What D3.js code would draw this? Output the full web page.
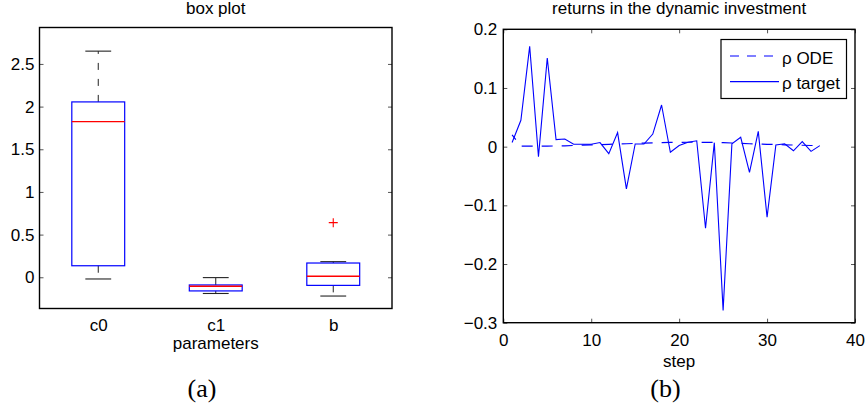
<!DOCTYPE html>
<html>
<head>
<meta charset="utf-8">
<script src="https://cdn.jsdelivr.net/npm/d3@7"></script>
<style>
  html, body { margin: 0; padding: 0; background: #fff; }
  svg { display: block; }
  text { font-family: "Liberation Sans", Arial, Helvetica, sans-serif; fill: #000; }
  .cap { font-family: "Liberation Serif", "Times New Roman", serif; }
</style>
</head>
<body>
<svg id="fig" width="865" height="408"></svg>
<script>
// ---- (a) box plot summaries for each fitted parameter ----
const categories   = ["c0", "c1", "b"];
const lowerWhisker = [-0.02, -0.19, -0.22];
const q1           = [0.135, -0.16, -0.095];
const medians      = [1.825, -0.105, 0.012];
const q3           = [2.055, -0.09, 0.167];
const upperWhisker = [2.65, -0.004, 0.183];
const outliers     = [[], [], [0.64]];
const boxTicks     = [0, 0.5, 1, 1.5, 2, 2.5];

// ---- (b) returns per step ----
const steps = [1, 2, 3, 4, 5, 6, 7, 8, 9, 10, 11, 12, 13, 14, 15, 16, 17, 18,
               19, 20, 21, 22, 23, 24, 25, 26, 27, 28, 29, 30, 31, 32, 33, 34, 35, 36];
const rhoTarget = [0.007, 0.045, 0.171, -0.017, 0.151, 0.012, 0.013, 0.004, 0.004, 0.004,
                   0.007, -0.012, 0.024, -0.072, 0.0045, 0.0045, 0.0215, 0.071, -0.0096, 0.002,
                   0.0075, 0.010, -0.139, 0.0068, -0.279, 0.005, 0.016, -0.044, 0.026, -0.120,
                   0.003, 0.005, -0.007, 0.0085, -0.008, 0.0017];
const rhoODE = [0.020, 0.001, 0.001, 0.001, 0.001, 0.0012, 0.0015, 0.002, 0.0025, 0.003,
                0.0035, 0.004, 0.0045, 0.005, 0.0055, 0.006, 0.0065, 0.007, 0.0072, 0.0074,
                0.0075, 0.0075, 0.0074, 0.0072, 0.0068, 0.0062, 0.0056, 0.005, 0.0045, 0.004,
                0.0036, 0.0032, 0.0028, 0.0024, 0.002, 0.0017];
const stepTicks   = [0, 10, 20, 30, 40];
const returnTicks = [-0.3, -0.2, -0.1, 0, 0.1, 0.2];
const legendLabels = ["ρ ODE", "ρ target"];

const svg = d3.select("#fig");
const fmt = d3.format("~g");
const FONT = 17;

function frame(g, x0, y0, x1, y1) {
  g.append("rect")
    .attr("x", x0).attr("y", y0)
    .attr("width", x1 - x0).attr("height", y1 - y0)
    .attr("fill", "none").attr("stroke", "#000").attr("stroke-width", 1.4);
}

function styleAxis(sel) {
  sel.select(".domain").remove();
  sel.selectAll(".tick line").attr("stroke", "#555").attr("stroke-width", 1);
  sel.selectAll(".tick text").style("font-size", FONT + "px")
     .style("font-family", '"Liberation Sans", Arial, sans-serif').attr("fill", "#000");
}

// ================= (a) box plot =================
{
  const L = 39.5, R = 392, T = 27.5, B = 308.5;
  const g = svg.append("g");
  const x = d3.scaleLinear().domain([0.5, 3.5]).range([L, R]);
  const y = d3.scaleLinear().domain([-0.366, 2.927]).range([B, T]);
  const unit = x(2) - x(1);
  const boxW = 0.45 * unit, capW = 0.22 * unit;

  // y axis, ticks pointing inward on both sides
  g.append("g").attr("transform", `translate(${L},0)`)
    .call(d3.axisLeft(y).tickValues(boxTicks).tickFormat(fmt).tickSize(-4).tickPadding(5))
    .call(styleAxis);
  g.append("g").attr("transform", `translate(${R},0)`)
    .call(d3.axisRight(y).tickValues(boxTicks).tickFormat(() => "").tickSize(-4))
    .call(styleAxis);

  // category labels
  g.append("g").attr("transform", `translate(0,${B})`)
    .call(d3.axisBottom(x).tickValues([1, 2, 3]).tickFormat((d, i) => categories[i]).tickSize(0).tickPadding(10))
    .call(styleAxis)
    .selectAll(".tick text").attr("dy", "0.71em");

  categories.forEach((c, i) => {
    const cx = x(i + 1);
    const wg = g.append("g");
    // whiskers
    [[q3[i], upperWhisker[i]], [q1[i], lowerWhisker[i]]].forEach(([a, b]) => {
      wg.append("line").attr("x1", cx).attr("x2", cx).attr("y1", y(a)).attr("y2", y(b))
        .attr("stroke", "#222").attr("stroke-width", 1).attr("stroke-dasharray", "7,9");
      wg.append("line").attr("x1", cx - capW / 2).attr("x2", cx + capW / 2)
        .attr("y1", y(b)).attr("y2", y(b)).attr("stroke", "#222").attr("stroke-width", 1.1);
    });
    // box
    wg.append("rect").attr("x", cx - boxW / 2).attr("y", y(q3[i]))
      .attr("width", boxW).attr("height", y(q1[i]) - y(q3[i]))
      .attr("fill", "none").attr("stroke", "#0000ff").attr("stroke-width", 1.2);
    // median
    wg.append("line").attr("x1", cx - boxW / 2).attr("x2", cx + boxW / 2)
      .attr("y1", y(medians[i])).attr("y2", y(medians[i]))
      .attr("stroke", "#ff0000").attr("stroke-width", 1.3);
    // outliers
    outliers[i].forEach(v => {
      const py = y(v), s = 4.5;
      wg.append("path").attr("d", `M${cx - s},${py}H${cx + s}M${cx},${py - s}V${py + s}`)
        .attr("stroke", "#ff0000").attr("stroke-width", 1.1).attr("fill", "none");
    });
  });

  frame(g, L, T, R, B);

  g.append("text").attr("x", (L + R) / 2).attr("y", 13.5).attr("text-anchor", "middle")
    .style("font-size", FONT + "px").text("box plot");
  g.append("text").attr("x", (L + R) / 2).attr("y", 348.5).attr("text-anchor", "middle")
    .style("font-size", FONT + "px").text("parameters");
  g.append("text").attr("class", "cap").attr("x", 202).attr("y", 397).attr("text-anchor", "middle")
    .style("font-size", "26px").text("(a)");
}

// ================= (b) returns =================
{
  const L = 503.3, R = 855, T = 29.3, B = 322.7;
  const g = svg.append("g");
  const x = d3.scaleLinear().domain([0, 40]).range([L, R]);
  const y = d3.scaleLinear().domain([-0.3, 0.2]).range([B, T]);

  g.append("g").attr("transform", `translate(${L},0)`)
    .call(d3.axisLeft(y).tickValues(returnTicks).tickFormat(fmt).tickSize(-4).tickPadding(6))
    .call(styleAxis);
  g.append("g").attr("transform", `translate(${R},0)`)
    .call(d3.axisRight(y).tickValues(returnTicks).tickFormat(() => "").tickSize(-4))
    .call(styleAxis);
  g.append("g").attr("transform", `translate(0,${B})`)
    .call(d3.axisBottom(x).tickValues(stepTicks).tickFormat(fmt).tickSize(-4).tickPadding(11))
    .call(styleAxis)
    .selectAll(".tick text").attr("dy", "0.71em");
  g.append("g").attr("transform", `translate(0,${T})`)
    .call(d3.axisTop(x).tickValues(stepTicks).tickFormat(() => "").tickSize(-4))
    .call(styleAxis);

  const line = d3.line().x((d, i) => x(steps[i])).y(d => y(d));

  g.append("path").datum(rhoODE).attr("d", line)
    .attr("fill", "none").attr("stroke", "#0000ff").attr("stroke-width", 1.2)
    .attr("stroke-dasharray", "11,9").attr("stroke-dashoffset", 5);
  g.append("path").datum(rhoTarget).attr("d", line)
    .attr("fill", "none").attr("stroke", "#0000ff").attr("stroke-width", 1.1)
    .attr("stroke-linejoin", "miter");

  frame(g, L, T, R, B);

  // legend
  const lg = g.append("g");
  lg.append("rect").attr("x", 721).attr("y", 39.5).attr("width", 125.5).attr("height", 59)
    .attr("fill", "#fff").attr("stroke", "#000").attr("stroke-width", 1.2);
  const rows = [{ y: 56, dash: "9,8" }, { y: 81.7, dash: null }];
  rows.forEach((r, i) => {
    const ln = lg.append("line").attr("x1", 730).attr("x2", 779).attr("y1", r.y).attr("y2", r.y)
      .attr("stroke", "#0000ff").attr("stroke-width", 1.2);
    if (r.dash) ln.attr("stroke-dasharray", r.dash);
    lg.append("text").attr("x", 782).attr("y", r.y + 7.5)
      .style("font-size", FONT + "px").text(legendLabels[i]);
  });

  g.append("text").attr("x", (L + R) / 2).attr("y", 13.5).attr("text-anchor", "middle")
    .style("font-size", FONT + "px").text("returns in the dynamic investment");
  g.append("text").attr("x", (L + R) / 2).attr("y", 367).attr("text-anchor", "middle")
    .style("font-size", FONT + "px").text("step");
  g.append("text").attr("class", "cap").attr("x", 665.5).attr("y", 397).attr("text-anchor", "middle")
    .style("font-size", "26px").text("(b)");
}
</script>
</body>
</html>
